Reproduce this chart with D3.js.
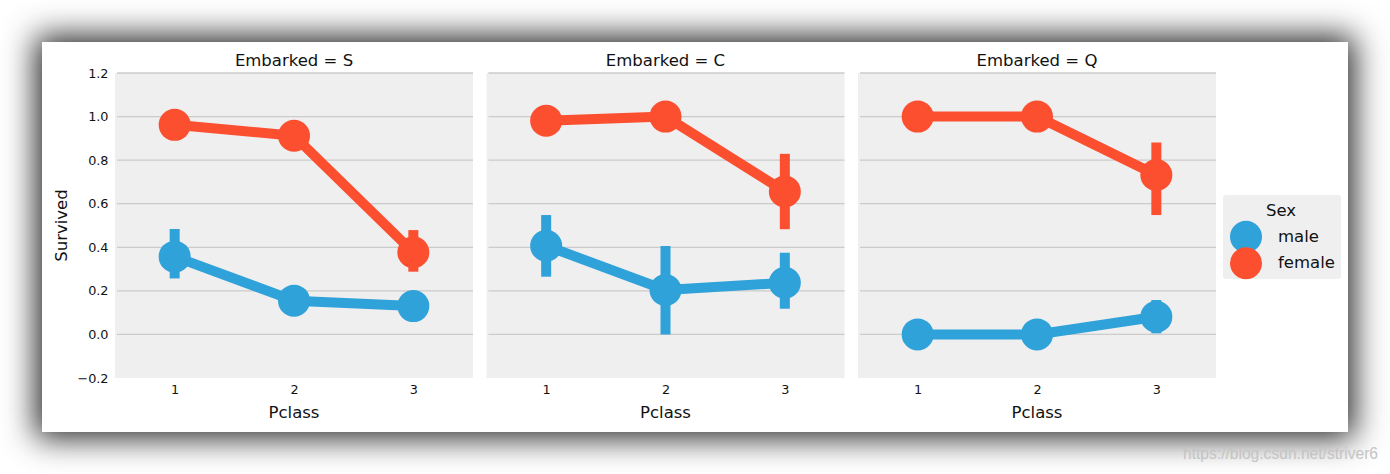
<!DOCTYPE html>
<html>
<head>
<meta charset="utf-8">
<script src="https://cdn.jsdelivr.net/npm/d3@7"></script>
<style>
  html, body { margin: 0; padding: 0; background: #ffffff; width: 1390px; height: 474px; overflow: hidden; }
  #card { position: absolute; left: 42px; top: 42px; width: 1306px; height: 390px; background: #ffffff;
          box-shadow: 0 0 30px 6px rgba(0,0,0,0.85); }
  svg { position: absolute; left: 0; top: 0; }
  text { font-family: "DejaVu Sans", sans-serif; }
</style>
</head>
<body>
<div id="card"></div>
<svg id="chart" width="1390" height="474"></svg>
<script>
// ---- data ----
const panels = ["S", "C", "Q"];
const classes = [1, 2, 3];
const sexes = ["male", "female"];
const yTicks = [-0.2, 0.0, 0.2, 0.4, 0.6, 0.8, 1.0, 1.2];
const yTickLabels = ["\u22120.2", "0.0", "0.2", "0.4", "0.6", "0.8", "1.0", "1.2"];

// one row per panel (S, C, Q), one value per Pclass
const maleMean  = [[0.357, 0.155, 0.130], [0.407, 0.204, 0.237], [0.0, 0.0, 0.081]];
const maleLow   = [[0.257, 0.105, 0.090], [0.265, 0.000, 0.118], [0.0, 0.0, 0.005]];
const maleHigh  = [[0.484, 0.205, 0.170], [0.548, 0.406, 0.375], [0.0, 0.0, 0.158]];
const femaleMean = [[0.962, 0.912, 0.377], [0.981, 1.0, 0.656], [1.0, 1.0, 0.732]];
const femaleLow  = [[0.915, 0.860, 0.288], [0.935, 1.0, 0.483], [1.0, 1.0, 0.548]];
const femaleHigh = [[1.000, 0.960, 0.479], [1.000, 1.0, 0.829], [1.0, 1.0, 0.881]];

const colors = { male: "#30a2da", female: "#fc4f30" };

// ---- layout ----
const svg = d3.select("#chart");
const panelX0 = [115, 486.5, 858];
const panelW = 358;
const plotTop = 73, plotBottom = 378;

const y = d3.scaleLinear().domain([-0.2, 1.2]).range([plotBottom, plotTop]);

const series = {
  male: { mean: maleMean, low: maleLow, high: maleHigh },
  female: { mean: femaleMean, low: femaleLow, high: femaleHigh }
};

panels.forEach((p, pi) => {
  const x0 = panelX0[pi];
  const x = d3.scalePoint().domain(classes).range([x0, x0 + panelW]).padding(0.5);
  const g = svg.append("g");

  g.append("rect").attr("x", x0).attr("y", plotTop).attr("width", panelW)
    .attr("height", plotBottom - plotTop).attr("fill", "#efefef");

  g.selectAll("line.grid").data(yTicks.filter(t => t > -0.2)).enter().append("line")
    .attr("x1", x0 + 2).attr("x2", x0 + panelW)
    .attr("y1", d => y(d)).attr("y2", d => y(d))
    .attr("stroke", "#cbcbcb").attr("stroke-width", 1.3);

  g.append("text").attr("x", x0 + panelW / 2).attr("y", 66)
    .attr("text-anchor", "middle").attr("font-size", "16.5px").attr("fill", "#111")
    .text("Embarked = " + p);

  const xAxis = d3.axisBottom(x).tickSize(0).tickPadding(0);
  const ax = g.append("g").attr("transform", `translate(0,${plotBottom})`).call(xAxis);
  ax.select(".domain").remove();
  ax.selectAll("text").attr("font-size", "12.8px").attr("fill", "#111")
    .attr("dy", null).attr("y", 16);

  g.append("text").attr("x", x0 + panelW / 2).attr("y", 418)
    .attr("text-anchor", "middle").attr("font-size", "16.5px").attr("fill", "#111")
    .text("Pclass");

  if (pi === 0) {
    const yAxis = d3.axisLeft(y).tickValues(yTicks).tickSize(0).tickPadding(6)
      .tickFormat((d, i) => yTickLabels[i]);
    const ay = g.append("g").attr("transform", `translate(${x0 - 0.5},0)`).call(yAxis);
    ay.select(".domain").remove();
    ay.selectAll("text").attr("font-size", "12.8px").attr("fill", "#111");
    g.append("text")
      .attr("transform", `translate(67,${(plotTop + plotBottom) / 2}) rotate(-90)`)
      .attr("text-anchor", "middle").attr("font-size", "16.5px").attr("fill", "#111")
      .text("Survived");
  }

  sexes.forEach(s => {
    const d = series[s];
    const pts = classes.map((c, ci) => ({
      c: c, v: d.mean[pi][ci], lo: d.low[pi][ci], hi: d.high[pi][ci]
    }));
    const sg = g.append("g");
    sg.selectAll("line.err").data(pts).enter().append("line")
      .attr("x1", q => x(q.c)).attr("x2", q => x(q.c))
      .attr("y1", q => y(q.lo)).attr("y2", q => y(q.hi))
      .attr("stroke", colors[s]).attr("stroke-width", 10).attr("stroke-linecap", "butt");
    sg.append("path").datum(pts)
      .attr("d", d3.line().x(q => x(q.c)).y(q => y(q.v)))
      .attr("fill", "none").attr("stroke", colors[s]).attr("stroke-width", 10)
      .attr("stroke-linejoin", "round");
    sg.selectAll("circle").data(pts).enter().append("circle")
      .attr("cx", q => x(q.c)).attr("cy", q => y(q.v)).attr("r", 16)
      .attr("fill", colors[s]);
  });
});

// legend
const lg = svg.append("g");
lg.append("rect").attr("x", 1223).attr("y", 195).attr("width", 118).attr("height", 84)
  .attr("rx", 3).attr("fill", "#efefef");
lg.append("text").attr("x", 1281).attr("y", 216).attr("text-anchor", "middle")
  .attr("font-size", "16.5px").attr("fill", "#111").text("Sex");
sexes.forEach((s, i) => {
  lg.append("circle").attr("cx", 1246).attr("cy", 236.7 + i * 26.6).attr("r", 16).attr("fill", colors[s]);
  lg.append("text").attr("x", 1278).attr("y", 242 + i * 25.5)
    .attr("font-size", "16.5px").attr("fill", "#111").text(s);
});

// watermark
svg.append("text").attr("x", 1183).attr("y", 459)
  .style("font-family", "'Liberation Sans', Arial, sans-serif").style("font-size", "15.6px")
  .attr("fill", "#c4c4c4").text("https://blog.csdn.net/striver6");
</script>
</body>
</html>
